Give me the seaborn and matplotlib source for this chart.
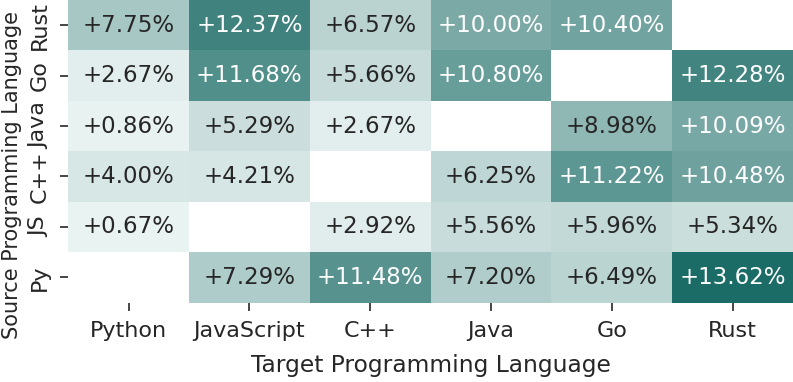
import numpy as np
import pandas as pd
import matplotlib
matplotlib.use("Agg")
import matplotlib.pyplot as plt
from matplotlib.colors import PowerNorm
import seaborn as sns

# rows = source language (top to bottom), cols = target language
sources = ["Rust", "Go", "Java", "C++", "JS", "Py"]
targets = ["Python", "JavaScript", "C++", "Java", "Go", "Rust"]

rust = [7.75, 12.37, 6.57, 10.00, 10.40, np.nan]
go = [2.67, 11.68, 5.66, 10.80, np.nan, 12.28]
java = [0.86, 5.29, 2.67, np.nan, 8.98, 10.09]
cpp = [4.00, 4.21, np.nan, 6.25, 11.22, 10.48]
js = [0.67, np.nan, 2.92, 5.56, 5.96, 5.34]
py = [np.nan, 7.29, 11.48, 7.20, 6.49, 13.62]

df = pd.DataFrame([rust, go, java, cpp, js, py], index=sources, columns=targets)
labels = df.map(lambda v: "" if np.isnan(v) else f"+{v:.2f}%")

sns.set_theme(style="white")
plt.rcParams["font.family"] = ["DejaVu Sans"]

fig = plt.figure(figsize=(7.93, 3.82), dpi=100)
ax = fig.add_axes([0.086, 0.208, 0.914, 0.792])

cmap = sns.light_palette("#1b6b66", as_cmap=True)
sns.heatmap(df, annot=labels, fmt="", cmap=cmap,
            norm=PowerNorm(gamma=2, vmin=0, vmax=13.62),
            cbar=False, ax=ax, annot_kws={"fontsize": 16.5})

ax.set_xlabel("Target Programming Language", fontsize=16.8, labelpad=9)
ax.set_ylabel("Source Programming Language", fontsize=15)
ax.tick_params(axis="both", labelsize=16, length=5.5, width=1.2,
               bottom=True, left=True, pad=8)
plt.setp(ax.get_yticklabels(), rotation=90, va="center")
plt.setp(ax.get_xticklabels(), rotation=0)
ax.yaxis.set_label_coords(-0.064, 0.42)

fig.savefig("out.png", dpi=100)
